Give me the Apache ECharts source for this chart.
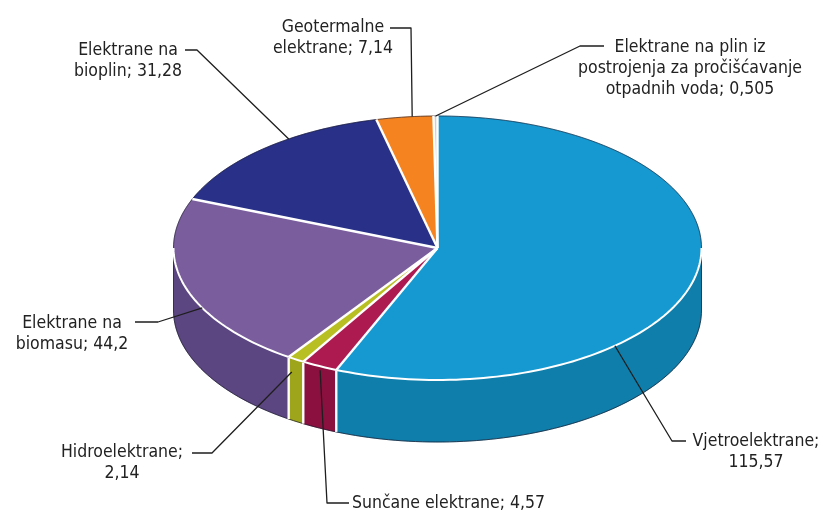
<!DOCTYPE html>
<html>
<head>
<meta charset="utf-8">
<script src="https://cdn.jsdelivr.net/npm/echarts@6/dist/echarts.min.js"></script>
<style>
html, body { margin: 0; padding: 0; background: #fff; }
#main { width: 826px; height: 513px; }
</style>
</head>
<body>
<div id="main"></div>
<script>
// instalirana snaga po vrsti elektrane
var categories = ['Vjetroelektrane', 'Sunčane elektrane', 'Hidroelektrane', 'Elektrane na biomasu',
  'Elektrane na bioplin', 'Geotermalne elektrane', 'Elektrane na plin iz postrojenja za pročišćavanje otpadnih voda'];
var values = [115.57, 4.57, 2.14, 44.2, 31.28, 7.14, 0.505];
// how each category name is broken over lines in its label
var labelNames = ['Vjetroelektrane;\n', 'Sunčane elektrane; ', 'Hidroelektrane;\n', 'Elektrane na\nbiomasu; ',
  'Elektrane na\nbioplin; ', 'Geotermalne\nelektrane; ', 'Elektrane na plin iz\npostrojenja za pročišćavanje\notpadnih voda; '];

var topColors = ['#1599d0', '#ad1a4f', '#b8bf22', '#7a5d9d', '#283088', '#f5831f', '#cfcfcf'];
var sideColors = ['#0f7eab', '#8c103f', '#9fa51a', '#5c4682', '#1d2468', '#c86512', '#a8a8a8'];

// ellipse geometry (pixels / degrees, y down)
var CX = 437.5, CY = 248, RX = 264, RY = 132, DEPTH = 62, START = -90;

// label placement: anchor angle on the rim, drop below rim, leader elbow points, text centre
var labelLayout = [
  { a: 47.8, dy: 0, path: [[672, 441], [686, 441]], x: 756, y: 452, align: 'center' },
  { a: 116.4, dy: 4, path: [[327, 503], [349, 503]], x: 352, y: 503, align: 'left' },
  { a: 123.5, dy: 14, path: [[212, 453], [192, 453]], x: 122, y: 463, align: 'center' },
  { a: 153, dy: 0, path: [[158, 322], [135, 322]], x: 72, y: 334, align: 'center' },
  { a: 235.7, dy: 0, path: [[197, 50], [185, 50]], x: 128, y: 61, align: 'center' },
  { a: 264.5, dy: 0, path: [[411, 28], [390, 28]], x: 333, y: 38, align: 'center' },
  { a: 269.6, dy: 0, path: [[580, 46], [604, 46]], x: 690, y: 68, align: 'center' }
];

var total = values.reduce(function (s, v) { return s + v; }, 0);

function pt(a, dy) {
  var r = a * Math.PI / 180;
  return [CX + RX * Math.cos(r), CY + RY * Math.sin(r) + (dy || 0)];
}
function arc(a0, a1, dy) {
  var n = Math.max(2, Math.ceil(Math.abs(a1 - a0) / 1.5));
  var out = [];
  for (var k = 0; k <= n; k++) out.push(pt(a0 + (a1 - a0) * k / n, dy));
  return out;
}
function line(points, color, width, z2) {
  return { type: 'polyline', z2: z2, shape: { points: points },
    style: { stroke: color, lineWidth: width, fill: null, lineJoin: 'round' } };
}

function renderItem(params, api) {
  var i = params.dataIndex;
  var before = 0;
  for (var k = 0; k < i; k++) before += values[k];
  var a0 = START + 360 * before / total;
  var a1 = a0 + 360 * api.value(0) / total;
  var kids = [];

  // side wall (front half only)
  var ws = Math.max(a0, 0), we = Math.min(a1, 180);
  if (we > ws) {
    kids.push({ type: 'polygon', z2: 5, shape: { points: arc(ws, we, 0).concat(arc(we, ws, DEPTH)) },
      style: { fill: sideColors[i], stroke: sideColors[i], lineWidth: 0.5 } });
    kids.push(line(arc(ws, we, DEPTH), 'rgba(20,20,40,0.7)', 1, 6));
    if (ws === 0) kids.push(line([pt(0), pt(0, DEPTH)], 'rgba(20,20,40,0.7)', 1, 6));
    else kids.push(line([pt(ws, 1), pt(ws, DEPTH)], '#fff', 2.4, 7));
    if (we === 180) kids.push(line([pt(180), pt(180, DEPTH)], 'rgba(20,20,40,0.7)', 1, 6));
    kids.push(line(arc(ws, we, 0), '#fff', 2, 15));
  }

  // top face
  kids.push({ type: 'polygon', z2: 10, shape: { points: [[CX, CY]].concat(arc(a0, a1, 0)) },
    style: { fill: topColors[i], stroke: topColors[i], lineWidth: 0.5 } });
  // back rim outline
  var b0 = Math.max(a0, -90), b1 = Math.min(a1, 0);
  if (b1 > b0) kids.push(line(arc(b0, b1, 0), 'rgba(20,20,40,0.6)', 1, 14));
  b0 = Math.max(a0, 180); b1 = Math.min(a1, 270);
  if (b1 > b0) kids.push(line(arc(b0, b1, 0), 'rgba(20,20,40,0.6)', 1, 14));
  // white separator from centre
  kids.push(line([[CX, CY], pt(a0)], '#fff', 2.4, 16));

  // label and leader
  var L = labelLayout[i];
  kids.push(line([pt(L.a, L.dy)].concat(L.path), '#1e1e1e', 1.3, 30));
  var txt = labelNames[i] + String(api.value(0)).replace('.', ',');
  kids.push({ type: 'text', z2: 31,
    style: { text: txt, x: L.x, y: L.y, fill: '#222',
      font: '17.5px "DejaVu Sans Condensed", "Liberation Sans Narrow", sans-serif',
      align: L.align, textAlign: L.align, verticalAlign: 'middle', textVerticalAlign: 'middle', lineHeight: 21 } });

  return { type: 'group', children: kids };
}

var chart = echarts.init(document.getElementById('main'), null, { renderer: 'canvas' });
chart.setOption({
  animation: false,
  backgroundColor: '#fff',
  series: [{
    type: 'custom',
    coordinateSystem: 'none',
    renderItem: renderItem,
    data: values.map(function (v, i) { return { name: categories[i], value: [v] }; })
  }]
});
</script>
</body>
</html>
